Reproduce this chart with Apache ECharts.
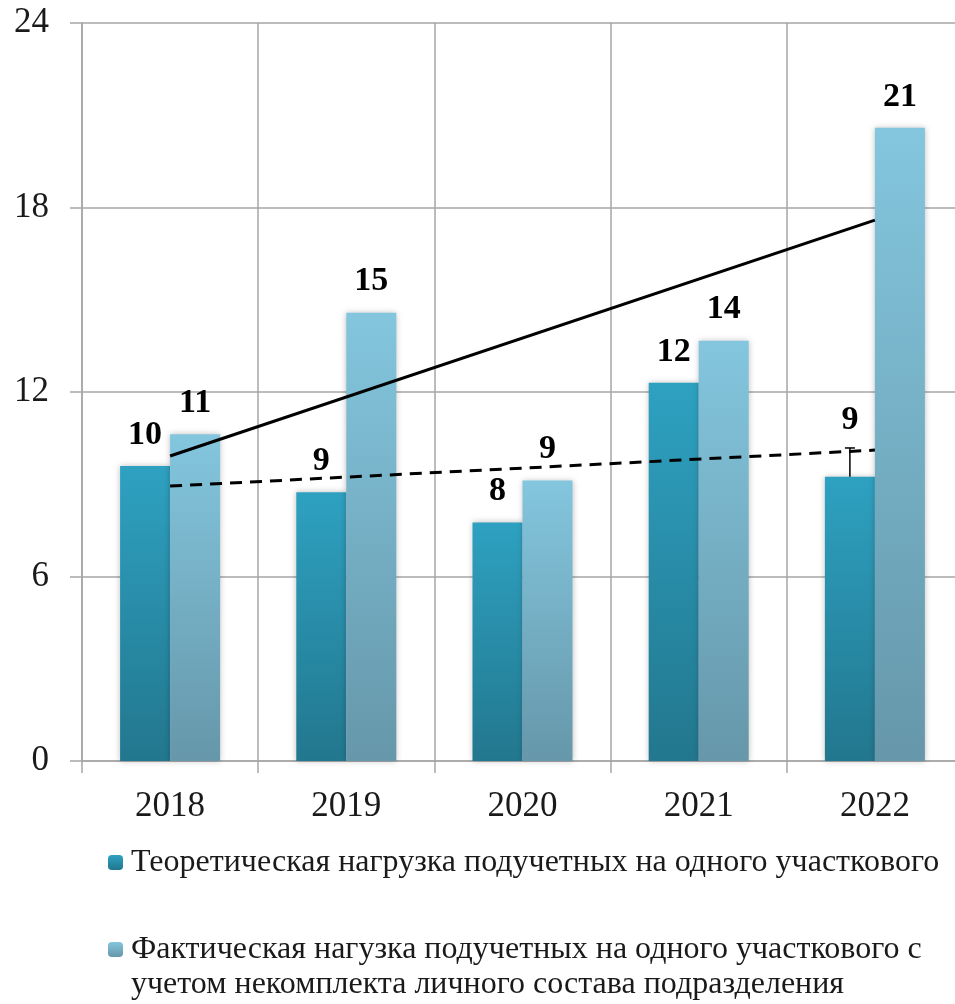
<!DOCTYPE html>
<html>
<head>
<meta charset="utf-8">
<script src="https://cdn.jsdelivr.net/npm/echarts@6/dist/echarts.min.js"></script>
<style>
  html, body { margin: 0; padding: 0; background: #fff; }
  #chart { width: 955px; height: 1004px; }
</style>
</head>
<body>
<div id="chart"></div>
<script>
// годы
var years = ['2018', '2019', '2020', '2021', '2022'];
// теоретическая нагрузка
var theorValues = [9.59, 8.74, 7.76, 12.30, 9.24];
var theorLabels = ['10', '9', '8', '12', '9'];
// фактическая нагрузка
var factValues = [10.63, 14.58, 9.12, 13.67, 20.59];
var factLabels = ['11', '15', '9', '14', '21'];
// линии тренда (начало и конец)
var factTrend = [9.92, null, null, null, 17.59];
var theorTrend = [8.94, null, null, null, 10.11];
// планка погрешности: [индекс года, низ, верх]
var errorBars = [[4, 9.24, 10.18]];
// подписи оси Y
var yTicks = [0, 6, 12, 18, 24];

var theorName = 'Теоретическая нагрузка подучетных на одного участкового';
var factLines = ['Фактическая нагузка подучетных на одного участкового с', 'учетом некомплекта личного состава подразделения'];
var factName = factLines.join(' ');

var serif = "'Liberation Serif', 'DejaVu Serif', serif";
var gridColor = '#a6a6a6';

function grad(top, bottom) {
  return new echarts.graphic.LinearGradient(0, 0, 0, 1, [
    { offset: 0, color: top },
    { offset: 1, color: bottom }
  ]);
}

var chart = echarts.init(document.getElementById('chart'));

var option = {
  animation: false,
  backgroundColor: '#fff',
  // область графика выходит за правый край картинки
  grid: { left: 82, width: 881, top: 23, bottom: 243, outerBoundsMode: 'none', containLabel: false },
  legend: [{
    data: [theorName],
    left: 108,
    top: 845,
    padding: 0,
    itemWidth: 15,
    itemHeight: 15,
    itemGap: 0,
    textStyle: { fontFamily: serif, fontSize: 32, color: '#1a1a1a', lineHeight: 35, padding: [0, 0, 0, 3] }
  }, {
    data: [factName],
    left: 108,
    top: 897,
    padding: 0,
    itemWidth: 15,
    itemHeight: 15,
    itemGap: 0,
    // пустая первая строка, чтобы значок стоял напротив первой строки текста
    formatter: function () { return ' \n' + factLines.join('\n'); },
    textStyle: { fontFamily: serif, fontSize: 32, color: '#1a1a1a', lineHeight: 35, padding: [0, 0, 0, 3] }
  }],
  xAxis: {
    type: 'category',
    data: years,
    axisLine: { lineStyle: { color: gridColor, width: 1.5 } },
    axisTick: { show: true, length: 12, lineStyle: { color: gridColor, width: 1.5 } },
    axisLabel: { fontFamily: serif, fontSize: 35, color: '#1a1a1a', margin: 28 },
    splitLine: { show: true, lineStyle: { color: gridColor, width: 1.5 } }
  },
  yAxis: {
    type: 'value',
    min: 0,
    max: 24,
    interval: 6,
    axisLine: { show: true, lineStyle: { color: gridColor, width: 1.5 } },
    axisTick: { show: true, length: 12, lineStyle: { color: gridColor, width: 1.5 } },
    axisLabel: {
      fontFamily: serif, fontSize: 35, color: '#1a1a1a', margin: 33,
      formatter: function (v) { return yTicks.indexOf(v) >= 0 ? String(v) : ''; }
    },
    splitLine: { show: true, lineStyle: { color: gridColor, width: 1.5 } }
  },
  series: [{
    name: theorName,
    type: 'bar',
    barWidth: 50,
    barGap: '0%',
    itemStyle: {
      color: grad('#2ea1c1', '#22778e'),
      shadowBlur: 6,
      shadowColor: 'rgba(0,0,0,0.25)'
    },
    label: {
      show: true,
      position: 'top',
      distance: 14,
      fontFamily: serif,
      fontSize: 34,
      fontWeight: 'bold',
      color: '#000',
      formatter: function (p) { return theorLabels[p.dataIndex]; }
    },
    data: theorValues.map(function (v, i) {
      // у 2022 подпись над планкой погрешности
      return i === 4 ? { value: v, label: { distance: 40 } } : v;
    }),
    z: 2
  }, {
    name: factName,
    type: 'bar',
    barWidth: 50,
    itemStyle: {
      color: grad('#83c6de', '#6697aa'),
      shadowBlur: 6,
      shadowColor: 'rgba(0,0,0,0.25)'
    },
    label: {
      show: true,
      position: 'top',
      distance: 14,
      fontFamily: serif,
      fontSize: 34,
      fontWeight: 'bold',
      color: '#000',
      formatter: function (p) { return factLabels[p.dataIndex]; }
    },
    data: factValues,
    z: 2
  }, {
    name: 'trendFact',
    type: 'line',
    data: factTrend,
    connectNulls: true,
    symbol: 'none',
    lineStyle: { color: '#000', width: 3 },
    z: 5
  }, {
    name: 'trendTheor',
    type: 'line',
    data: theorTrend,
    connectNulls: true,
    symbol: 'none',
    lineStyle: { color: '#000', width: 3, type: [12, 8] },
    z: 5
  }, {
    name: 'error',
    type: 'custom',
    data: errorBars,
    z: 6,
    renderItem: function (params, api) {
      var low = api.coord([api.value(0), api.value(1)]);
      var high = api.coord([api.value(0), api.value(2)]);
      var x = low[0] - 25;
      return {
        type: 'group',
        children: [{
          type: 'line',
          shape: { x1: x, y1: low[1], x2: x, y2: high[1] },
          style: { stroke: '#000', lineWidth: 1.5 }
        }, {
          type: 'line',
          shape: { x1: x - 5, y1: high[1], x2: x + 5, y2: high[1] },
          style: { stroke: '#000', lineWidth: 1.5 }
        }]
      };
    }
  }]
};

chart.setOption(option);
</script>
</body>
</html>
